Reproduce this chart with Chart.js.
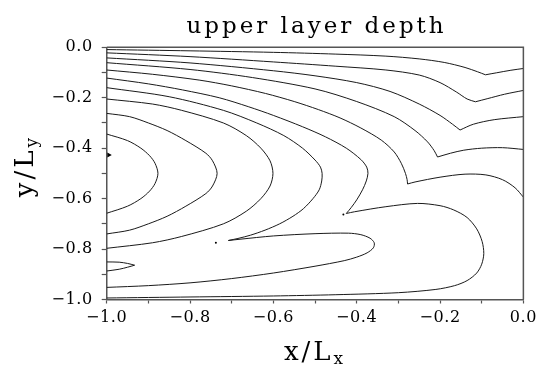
<!DOCTYPE html>
<html>
<head>
<meta charset="utf-8">
<script src="https://cdn.jsdelivr.net/npm/chart.js@4/dist/chart.umd.min.js"></script>
<style>
  body { margin: 0; background: #fff; }
  canvas { display: block; }
</style>
</head>
<body>
<canvas id="chart" width="542" height="365" style="width:542px;height:365px"></canvas>
<script>
// contour lines, as [x/Lx, y/Ly] pairs
const line1 = [[-1,-0.009],[-0.8,-0.014],[-0.6,-0.02],[-0.45,-0.027],[-0.33,-0.035],[-0.25,-0.046],[-0.19,-0.06],[-0.14,-0.08],[-0.11,-0.097],[-0.091,-0.109],[-0.064,-0.101],[-0.03,-0.091],[0,-0.084]];
const line2 = [[-1,-0.022],[-0.8,-0.037],[-0.6,-0.058],[-0.45,-0.075],[-0.33,-0.09],[-0.25,-0.11],[-0.2,-0.14],[-0.16,-0.178],[-0.135,-0.205],[-0.115,-0.216],[-0.087,-0.204],[-0.045,-0.186],[0,-0.171]];
const line3 = [[-1,-0.042],[-0.8,-0.062],[-0.6,-0.093],[-0.5,-0.113],[-0.4,-0.14],[-0.32,-0.175],[-0.25,-0.225],[-0.2,-0.27],[-0.17,-0.305],[-0.152,-0.328],[-0.12,-0.305],[-0.07,-0.287],[0,-0.275]];
const line4 = [[-1,-0.061],[-0.8,-0.088],[-0.65,-0.12],[-0.5,-0.165],[-0.4,-0.215],[-0.31,-0.275],[-0.26,-0.33],[-0.23,-0.375],[-0.214,-0.41],[-0.206,-0.435],[-0.175,-0.42],[-0.143,-0.408],[-0.1,-0.4],[-0.05,-0.398],[0,-0.405]];
const line5 = [[-1,-0.09],[-0.89,-0.107],[-0.778,-0.13],[-0.7,-0.153],[-0.619,-0.183],[-0.55,-0.215],[-0.492,-0.247],[-0.44,-0.28],[-0.39,-0.32],[-0.341,-0.368],[-0.31,-0.415],[-0.293,-0.46],[-0.283,-0.5],[-0.279,-0.525],[-0.278,-0.542],[-0.26,-0.534],[-0.2,-0.515],[-0.14,-0.503],[-0.09,-0.506],[-0.05,-0.525],[-0.02,-0.557],[0,-0.594]];
const line6 = [[-1,-0.122],[-0.9,-0.145],[-0.818,-0.169],[-0.73,-0.2],[-0.659,-0.236],[-0.6,-0.27],[-0.53,-0.315],[-0.475,-0.355],[-0.425,-0.4],[-0.39,-0.445],[-0.376,-0.475],[-0.373,-0.5],[-0.377,-0.53],[-0.386,-0.565],[-0.4,-0.605],[-0.413,-0.635],[-0.425,-0.659],[-0.405,-0.652],[-0.33,-0.632],[-0.254,-0.619],[-0.2,-0.628],[-0.167,-0.645],[-0.135,-0.675],[-0.112,-0.72],[-0.099,-0.77],[-0.095,-0.818],[-0.1,-0.86],[-0.112,-0.895],[-0.135,-0.925],[-0.165,-0.945],[-0.21,-0.96],[-0.3,-0.973],[-0.45,-0.981],[-0.6,-0.986],[-0.8,-0.99],[-1,-0.994]];
const line7 = [[-1,-0.16],[-0.85,-0.196],[-0.72,-0.25],[-0.64,-0.3],[-0.575,-0.35],[-0.53,-0.4],[-0.5,-0.447],[-0.487,-0.475],[-0.483,-0.5],[-0.484,-0.53],[-0.49,-0.565],[-0.505,-0.6],[-0.528,-0.64],[-0.553,-0.67],[-0.585,-0.7],[-0.62,-0.725],[-0.655,-0.745],[-0.685,-0.758],[-0.708,-0.766],[-0.68,-0.761],[-0.6,-0.748],[-0.5,-0.739],[-0.42,-0.737],[-0.39,-0.743],[-0.368,-0.757],[-0.358,-0.775],[-0.36,-0.795],[-0.375,-0.815],[-0.4,-0.832],[-0.43,-0.846],[-0.5,-0.868],[-0.6,-0.895],[-0.7,-0.917],[-0.8,-0.934],[-0.9,-0.945],[-1,-0.952]];
const line8 = [[-1,-0.205],[-0.89,-0.225],[-0.82,-0.25],[-0.72,-0.3],[-0.665,-0.35],[-0.63,-0.4],[-0.608,-0.45],[-0.601,-0.5],[-0.608,-0.55],[-0.63,-0.6],[-0.665,-0.65],[-0.72,-0.7],[-0.82,-0.75],[-0.89,-0.775],[-1,-0.797]];
const line9 = [[-1,-0.262],[-0.945,-0.275],[-0.9,-0.3],[-0.855,-0.33],[-0.81,-0.37],[-0.762,-0.42],[-0.746,-0.45],[-0.735,-0.5],[-0.746,-0.55],[-0.762,-0.58],[-0.81,-0.63],[-0.855,-0.67],[-0.9,-0.7],[-0.945,-0.725],[-1,-0.74]];
const line10 = [[-1,-0.344],[-0.95,-0.37],[-0.918,-0.4],[-0.897,-0.43],[-0.884,-0.46],[-0.877,-0.5],[-0.884,-0.54],[-0.897,-0.57],[-0.918,-0.6],[-0.95,-0.63],[-1,-0.658]];
const tongue = [[-1,-0.851],[-0.97,-0.852],[-0.95,-0.857],[-0.933,-0.864],[-0.95,-0.872],[-0.97,-0.88],[-1,-0.887]];
const specks = [[-0.738,-0.775],[-0.432,-0.663]];
const marker = [[-0.995,-0.427]];

// each contour with the indices of its sharp corners
const contours = [
  [line1, [9]], [line2, [9]], [line3, [9]], [line4, [9]], [line5, [14]],
  [line6, [16]], [line7, [18]], [line8, []], [line9, []], [line10, []], [tongue, [3]]
];

const titleText = 'upper layer depth';
const xTitle = ['x/L', 'x'];
const yTitle = ['y/L', 'y'];

const serif = '"DejaVu Serif", "Liberation Serif", serif';
const frameColor = '#555';

function toPoints(arr) {
  return arr.map(p => ({ x: p[0], y: p[1] }));
}

// cut a line at its corners so the smoothing does not round them off
function pieces(arr, corners) {
  const out = [];
  let start = 0;
  corners.forEach(i => { out.push(arr.slice(start, i + 1)); start = i; });
  out.push(arr.slice(start));
  return out;
}

// label every second tick (0.2 steps), leave the 0.1 ticks bare
function tickLabel(v) {
  const n = Math.round(v * 10);
  if (n % 2 !== 0) return '';
  return (n < 0 ? '\u2212' : '') + Math.abs(v).toFixed(1);
}

// wider spacing like the original plot font
const spacing = {
  id: 'spacing',
  beforeUpdate(chart) { chart.ctx.letterSpacing = '0.6px'; },
  beforeDraw(chart) { chart.ctx.letterSpacing = '0.6px'; }
};

function drawSubscripted(ctx, parts, cx, baseline, big, small, drop) {
  ctx.font = big + 'px ' + serif;
  const w1 = ctx.measureText(parts[0]).width;
  ctx.font = small + 'px ' + serif;
  const w2 = ctx.measureText(parts[1]).width;
  const start = cx - (w1 + w2) / 2;
  ctx.textAlign = 'left';
  ctx.font = big + 'px ' + serif;
  ctx.fillText(parts[0], start, baseline);
  ctx.font = small + 'px ' + serif;
  ctx.fillText(parts[1], start + w1, baseline + drop);
}

const labels = {
  id: 'labels',
  afterDraw(chart) {
    const ctx = chart.ctx;
    const a = chart.chartArea;
    const cx = (a.left + a.right) / 2;

    // top and right frame
    ctx.save();
    ctx.strokeStyle = frameColor;
    ctx.lineWidth = 1.5;
    ctx.beginPath();
    ctx.moveTo(a.left, a.top);
    ctx.lineTo(a.right, a.top);
    ctx.lineTo(a.right, a.bottom);
    ctx.stroke();
    ctx.restore();

    ctx.save();
    ctx.fillStyle = '#000';
    ctx.textBaseline = 'alphabetic';

    ctx.letterSpacing = '3px';
    ctx.font = '23px ' + serif;
    ctx.textAlign = 'center';
    ctx.fillText(titleText, cx + 1.5, 33);

    ctx.letterSpacing = '3px';
    drawSubscripted(ctx, xTitle, cx, 360, 26, 17, 4);

    ctx.translate(33, 166);
    ctx.rotate(-Math.PI / 2);
    drawSubscripted(ctx, yTitle, 0, 0, 26, 17, 4);
    ctx.restore();
  }
};

const datasets = [];
contours.forEach(([line, corners]) => {
  pieces(line, corners).forEach(part => {
    datasets.push({
      data: toPoints(part),
      showLine: true,
      borderColor: '#1a1a1a',
      borderWidth: 1,
      pointRadius: 0,
      tension: 0.3,
      fill: false
    });
  });
});

datasets.push({
  data: toPoints(specks),
  showLine: false,
  pointRadius: 1,
  backgroundColor: '#000',
  borderWidth: 0
});

datasets.push({
  data: toPoints(marker),
  showLine: false,
  pointStyle: 'triangle',
  rotation: 90,
  pointRadius: 3,
  backgroundColor: '#000',
  borderWidth: 0
});

const axisBase = {
  type: 'linear',
  min: -1,
  max: 0,
  ticks: {
    stepSize: 0.1,
    autoSkip: false,
    maxRotation: 0,
    color: '#000',
    font: { family: serif, size: 16 },
    callback: tickLabel
  },
  grid: {
    drawOnChartArea: false,
    drawTicks: true,
    color: frameColor,
    tickWidth: 1.2
  },
  border: { display: true, color: frameColor, width: 1.5 }
};

new Chart(document.getElementById('chart'), {
  type: 'scatter',
  data: { datasets: datasets },
  options: {
    responsive: false,
    animation: false,
    layout: { padding: { top: 47.3, right: 15.3, left: 0, bottom: 0 } },
    plugins: {
      legend: { display: false },
      tooltip: { enabled: false },
      title: { display: false }
    },
    scales: {
      x: {
        ...axisBase,
        position: 'bottom',
        ticks: { ...axisBase.ticks, padding: 5 },
        grid: { ...axisBase.grid, tickLength: 4 },
        afterFit(scale) { scale.height = 65.5; }
      },
      y: {
        ...axisBase,
        position: 'left',
        ticks: { ...axisBase.ticks, padding: 9 },
        grid: { ...axisBase.grid, tickLength: 5 },
        afterFit(scale) { scale.width = 106.7; }
      }
    }
  },
  plugins: [spacing, labels]
});
</script>
</body>
</html>
